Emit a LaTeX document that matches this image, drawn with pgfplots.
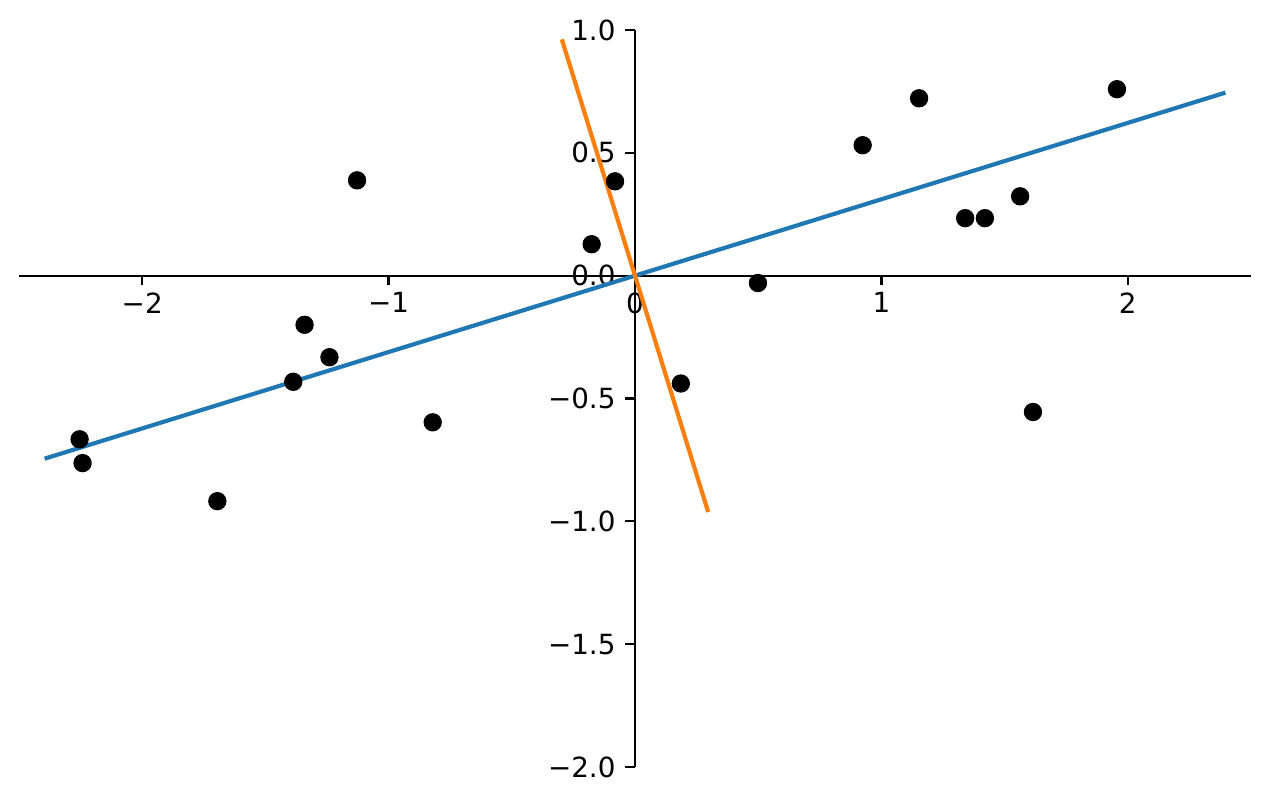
\documentclass[border=0pt]{standalone}
\usepackage{pgfplots}
\pgfplotsset{compat=1.18}
\usepackage{fontspec}
\setmainfont{DejaVu Sans}
\definecolor{mblue}{HTML}{1F77B4}
\definecolor{morange}{HTML}{FF7F0E}
\begin{document}
\begin{tikzpicture}
\begin{axis}[
  scale only axis,
  width=443.5pt, height=265.3pt,
  xmin=-2.5, xmax=2.5, ymin=-2, ymax=1,
  axis lines=middle,
  axis line style={line width=0.8pt, -},
  hide obscured x ticks=false,
  hide obscured y ticks=false,
  xtick={-2,-1,0,1,2},
  xticklabels={−2,−1,0,1,2},
  ytick={-2,-1.5,-1,-0.5,0,0.5,1},
  yticklabels={−2.0,−1.5,−1.0,−0.5,0.0,0.5,1.0},
  tick align=outside,
  major tick length=3.5pt,
  tick style={line width=0.8pt, black},
  ticklabel style={font=\fontsize{10}{12}\selectfont},
  xticklabel style={yshift=1pt},
  clip=false,
]
\addplot[only marks, mark=*, mark size=3.1pt, black] coordinates {
(-2.254,-0.666) (-2.242,-0.763) (-1.695,-0.918) (-1.387,-0.432)
(-1.341,-0.200) (-1.240,-0.332) (-1.128,0.388) (-0.821,-0.597)
(-0.176,0.128) (-0.081,0.384) (0.186,-0.439) (0.499,-0.030)
(0.924,0.531) (1.153,0.722) (1.340,0.234) (1.420,0.234)
(1.563,0.323) (1.615,-0.555) (1.956,0.759)
};
\addplot[mblue, line width=1.5pt] coordinates {(-2.396,-0.745) (2.396,0.745)};
\addplot[morange, line width=1.5pt] coordinates {(-0.297,0.962) (0.297,-0.962)};
\end{axis}
\path (current axis.south west) ++(-6.84pt,-12.96pt);
\path (current axis.north east) ++(6.84pt,10.8pt);
\end{tikzpicture}
\end{document}
